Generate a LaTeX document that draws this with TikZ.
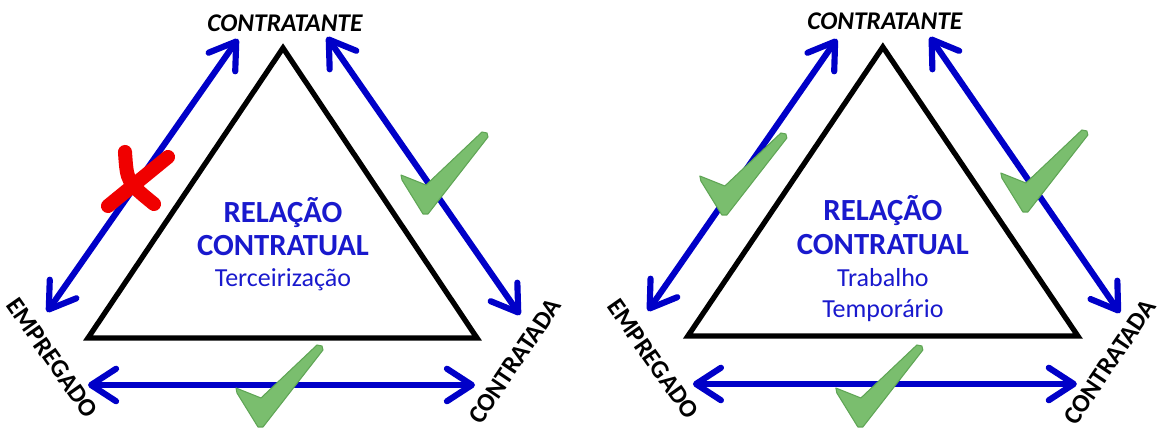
\documentclass[tikz,border=0pt]{standalone}
\usepackage{fontspec}
\setmainfont{Carlito}
\usepackage{tikz}
\usetikzlibrary{arrows.meta, positioning}
\definecolor{arrowblue}{RGB}{0,0,200}
\definecolor{textblue}{RGB}{25,25,205}
\definecolor{checkgreen}{RGB}{122,190,110}
\definecolor{checkedge}{RGB}{95,165,85}
\definecolor{crossred}{RGB}{240,0,0}
% green tick, bottom point at #1
\newcommand{\greencheck}[1]{%
  \filldraw[checkmk, shift={(#1)}] (-24,-39) -- (1,-29) -- (57,-82) -- (62,-81) -- (63,-77) -- (3,0) -- (-2,0) -- (-23,-34) -- cycle;}

\begin{document}
\begin{tikzpicture}[x=0.02cm, y=-0.02cm,
    trisd/.style={line width=3pt, line join=miter},
    relarrow/.style={arrowblue, line width=3.5pt, line cap=round,
      {Straight Barb[length=5mm,width=6.5mm,round]}-{Straight Barb[length=5mm,width=6.5mm,round]}},
    party/.style={font=\fontsize{14.5}{16}\selectfont\bfseries, inner sep=0pt},
    headtxt/.style={textblue, font=\fontsize{17.5}{19}\selectfont\bfseries},
    kind/.style={textblue, font=\fontsize{14.8}{16}\selectfont},
    checkmk/.style={fill=checkgreen, draw=checkedge, line width=0.6pt, line join=round},
    nope/.style={crossred, line width=8pt, line cap=round}]
    \useasboundingbox (0,0) rectangle (1161,428);

    % ---- Terceirização ----
    \coordinate (ta) at (283,48);
    \coordinate (tb) at (88,338);
    \coordinate (tc) at (477,338);
    \draw[trisd] (ta) -- (tb) -- (tc) -- cycle;

    \node[party] (tante) at (285,23) {\itshape CONTRATANTE};
    \node[party, rotate=-55] (tempr) at (52,358) {EMPREGADO};
    \node[party, rotate=56] (tada) at (515,361) {CONTRATADA};

    \node[headtxt] (trel) at (283,213) {RELAÇÃO};
    \node[headtxt] (tcon) at (283,246) {CONTRATUAL};
    \node[kind] (tter) at (283,280) {Terceirização};

    % setas duplas
    \coordinate (t1) at (47,312);  \coordinate (t2) at (238,39);
    \coordinate (t3) at (327,37);  \coordinate (t4) at (520,315);
    \coordinate (t5) at (88,385);  \coordinate (t6) at (475,385);
    \draw[relarrow] (t1) -- (t2);
    \draw[relarrow] (t3) -- (t4);
    \draw[relarrow] (t5) -- (t6);

    % marcas
    \draw[nope] (125,152) .. controls (127,182) .. (154,204);
    \draw[nope] (168,157) -- (108,206);
    \greencheck{425,214}
    \greencheck{260,427}

    % ---- Trabalho Temporário ----
    \begin{scope}[xshift=12cm]
        \coordinate (ra) at (283,47);
        \coordinate (rb) at (88,336);
        \coordinate (rc) at (478,336);
        \draw[trisd] (ra) -- (rb) -- (rc) -- cycle;

        \node[party] (rante) at (285,21) {\itshape CONTRATANTE};
        \node[party, rotate=-55] (rempr) at (53,359) {EMPREGADO};
        \node[party, rotate=56] (rada) at (510,362) {CONTRATADA};

        \node[headtxt] (rrel) at (283,211) {RELAÇÃO};
        \node[headtxt] (rcon) at (283,245) {CONTRATUAL};
        \node[kind] (rtrab) at (283,278) {Trabalho};
        \node[kind] (rtemp) at (283,311) {Temporário};

        \coordinate (r1) at (48,311);  \coordinate (r2) at (237,39);
        \coordinate (r3) at (330,37);  \coordinate (r4) at (520,313);
        \coordinate (r5) at (93,384);  \coordinate (r6) at (477,384);
        \draw[relarrow] (r1) -- (r2);
        \draw[relarrow] (r3) -- (r4);
        \draw[relarrow] (r5) -- (r6);

        \greencheck{124,215}
        \greencheck{425,212}
        \greencheck{260,427}
    \end{scope}
\end{tikzpicture}
\end{document}
